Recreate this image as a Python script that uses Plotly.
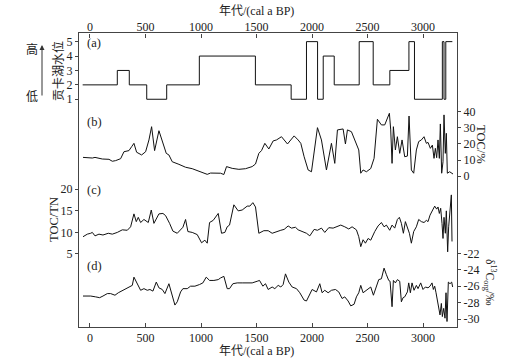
import plotly.graph_objects as go

# ---------------- data ----------------
# (a) Gongka lake water level (step series: level starting at each year)
lvl_years = [-66, 246, 354, 511, 691, 985, 1490, 1812, 1950, 2050, 2101, 2200, 2425, 2551, 2701, 2873, 2923, 3174, 3189, 3205, 3264]
lvl_values = [2, 3, 2, 1, 2, 4, 2, 1, 5, 1, 4, 2, 5, 2, 3, 5, 1, 5, 1, 5, 5]

# (b) TOC / %
toc_years = [-63, 21, 45, 111, 171, 201, 231, 276, 306, 351, 375, 396, 420, 465, 501, 531, 555, 582, 621, 657,
             687, 711, 741, 801, 861, 921, 981, 1026, 1056, 1086, 1131, 1176, 1206, 1230, 1281, 1341, 1401, 1461,
             1491, 1521, 1545, 1575, 1611, 1650, 1680, 1725, 1779, 1839, 1875, 1899, 1929, 1965, 1995, 2049, 2085,
             2130, 2175, 2205, 2229, 2280, 2301, 2319, 2355, 2400, 2421, 2439, 2460, 2490, 2529, 2559, 2589, 2625,
             2655, 2697, 2709, 2721, 2733, 2751, 2769, 2790, 2811, 2835, 2859, 2874, 2895, 2916, 2940, 2961, 2985,
             3009, 3030, 3045, 3066, 3084, 3099, 3111, 3123, 3135, 3147, 3156, 3168, 3180, 3189, 3201, 3210, 3219,
             3240, 3270]
toc_values = [11.7, 11.3, 11.7, 10.7, 10.5, 9.3, 9.7, 10.9, 15.2, 15.9, 18.3, 20.4, 14.9, 13.2, 15.2, 22.5, 30.7, 15.9, 28.2, 20.4,
              14.2, 13.2, 9.0, 7.4, 5.6, 4.7, 3.3, 1.9, 1.2, 2.0, 1.9, 1.9, 1.1, 6.0, 4.9, 4.3, 4.7, 6.0,
              7.6, 14.2, 15.9, 20.4, 16.9, 21.9, 22.5, 24.5, 20.0, 25.0, 22.5, 20.4, 12.1, 3.9, 2.8, 30.1, 22.5,
              3.9, 20.4, 8.0, 28.7, 29.3, 20.0, 28.7, 27.6, 20.4, 16.3, 1.9, 3.9, 2.8, 4.8, 11.1, 35.3, 31.8,
              31.8, 39.0, 28.7, 8.0, 30.7, 16.3, 24.5, 14.2, 22.5, 12.1, 12.5, 37.3, 3.9, 1.9, 16.3, 21.5, 22.5,
              24.5, 20.4, 21.0, 17.3, 19.3, 11.1, 17.3, 11.5, 22.5, 11.1, 32.4, 1.9, 9.0, 38.0, 14.2, 26.6, 1.9,
              2.8, 1.4]

# (c) TOC/TN
ctn_years = [-63, -24, 6, 21, 45, 81, 117, 165, 201, 246, 291, 336, 366, 396, 417, 435, 456, 486, 525, 552,
             576, 621, 657, 681, 717, 747, 786, 816, 837, 861, 882, 921, 966, 1005, 1035, 1056, 1077, 1110, 1155,
             1185, 1215, 1236, 1257, 1296, 1335, 1371, 1416, 1440, 1467, 1491, 1521, 1566, 1605, 1641, 1680, 1719,
             1749, 1785, 1815, 1851, 1875, 1920, 1950, 1980, 2019, 2049, 2085, 2115, 2151, 2190, 2220, 2259, 2295,
             2331, 2361, 2400, 2421, 2439, 2460, 2481, 2505, 2529, 2565, 2595, 2625, 2649, 2670, 2700, 2721, 2745,
             2769, 2787, 2805, 2823, 2841, 2859, 2877, 2895, 2916, 2940, 2961, 2985, 3009, 3030, 3045, 3063, 3084,
             3105, 3123, 3135, 3147, 3159, 3171, 3180, 3189, 3201, 3210, 3222, 3231, 3243, 3255, 3261]
ctn_values = [9.0, 9.6, 9.8, 10.0, 9.2, 9.6, 9.4, 9.8, 9.6, 10.0, 10.6, 10.5, 11.3, 14.3, 12.5, 13.5, 12.3, 13.0, 12.3, 15.2,
              12.1, 14.3, 14.4, 13.9, 12.1, 10.3, 9.8, 10.6, 11.2, 13.0, 10.2, 10.0, 9.5, 7.6, 8.2, 7.5, 12.3, 12.8, 14.4,
              9.8, 10.0, 11.3, 11.7, 16.4, 15.0, 15.2, 16.1, 16.1, 16.9, 15.9, 9.8, 10.4, 10.4, 9.8, 10.2, 10.5,
              10.7, 11.5, 11.0, 11.2, 10.6, 10.2, 9.8, 9.2, 10.7, 10.5, 11.0, 10.0, 11.1, 11.0, 11.3, 11.7, 11.3,
              10.8, 11.3, 10.6, 9.0, 6.7, 8.3, 7.5, 8.6, 8.2, 10.2, 11.5, 12.3, 11.3, 11.7, 10.5, 11.7, 11.0,
              13.0, 13.5, 12.1, 9.8, 12.5, 11.0, 9.8, 7.5, 10.2, 11.3, 13.0, 12.5, 12.3, 12.8, 12.5, 14.0, 15.2,
              16.1, 15.4, 15.9, 14.4, 15.6, 12.1, 8.6, 13.5, 9.8, 15.0, 5.5, 11.3, 16.4, 18.7, 7.9]

# (d) delta13C org / permil
d13_years = [-63, 6, 51, 87, 117, 156, 186, 225, 255, 306, 345, 381, 396, 426, 456, 486, 516, 540, 567, 597,
             621, 651, 675, 711, 735, 765, 786, 816, 837, 876, 906, 945, 987, 1017, 1047, 1077, 1116, 1155, 1176,
             1206, 1236, 1257, 1287, 1326, 1371, 1416, 1461, 1506, 1527, 1557, 1581, 1605, 1641, 1665, 1695, 1719,
             1740, 1761, 1791, 1821, 1860, 1890, 1929, 1950, 1971, 2001, 2040, 2070, 2091, 2115, 2145, 2175, 2211,
             2241, 2271, 2295, 2325, 2349, 2379, 2400, 2421, 2439, 2460, 2490, 2529, 2553, 2580, 2601, 2625, 2649,
             2670, 2691, 2703, 2721, 2733, 2751, 2769, 2790, 2805, 2820, 2835, 2859, 2871, 2886, 2901, 2919, 2940,
             2955, 2979, 3000, 3021, 3045, 3063, 3081, 3093, 3105, 3117, 3129, 3141, 3153, 3165, 3174, 3186, 3198,
             3207, 3216, 3228, 3243, 3258, 3267]
d13_values = [-27.2, -27.2, -27.3, -27.4, -27.2, -26.9, -26.9, -27.1, -26.8, -26.4, -26.1, -25.9, -24.9, -25.7, -26.5, -26.3, -26.5, -26.4, -26.6, -25.5,
              -26.2, -26.4, -26.9, -25.7, -26.9, -28.3, -27.9, -26.7, -26.3, -26.3, -26.0, -26.0, -25.8, -25.6, -24.9, -25.3, -25.3, -25.2, -25.0,
              -24.8, -26.3, -26.3, -25.7, -25.6, -25.6, -25.6, -25.6, -25.4, -25.3, -26.0, -25.7, -26.4, -26.1, -26.3, -25.9, -26.1,
              -25.8, -24.5, -25.5, -26.1, -26.3, -26.8, -27.7, -27.8, -27.2, -26.4, -26.7, -25.7, -26.8, -26.5, -26.8, -26.5, -26.4,
              -26.7, -27.5, -27.3, -27.8, -28.4, -28.2, -27.3, -26.8, -25.9, -26.8, -26.5, -26.1, -27.1, -26.1, -25.2, -25.1, -23.8,
              -24.6, -25.3, -25.4, -28.5, -25.3, -25.6, -25.2, -25.4, -27.9, -27.4, -27.3, -26.7, -25.6, -26.8, -25.6, -26.5, -25.9,
              -26.3, -25.6, -26.4, -26.1, -26.2, -26.0, -25.6, -26.4, -26.0, -26.8, -27.9, -28.5, -29.5, -28.1, -29.7, -28.7, -29.9,
              -26.8, -30.3, -25.5, -25.7, -25.5, -26.1]

x_ticks = [0, 500, 1000, 1500, 2000, 2500, 3000]
a_ticks = [1, 2, 3, 4, 5]
b_ticks = [0, 10, 20, 30, 40]
c_ticks = [5, 10, 15, 20]
d_ticks = [-22, -24, -26, -28, -30]
d_ticktext = ["-22", "-24", "-26", "-28", "-30"]

# ---------------- layout geometry ----------------
W, H = 510, 359
L, R, T, B = 79, 457, 33, 327


def px(x):
    return (x - L) / (R - L)


def py(y):
    return (B - y) / (B - T)


SERIF = "Liberation Serif, Times New Roman, serif"
MIXED = "Liberation Serif, Noto Sans CJK SC, serif"
CJK = "Noto Sans CJK SC, sans-serif"
TXT = "#222"
LINE = "#111"

fig = go.Figure()
fig.add_trace(go.Scatter(x=lvl_years, y=lvl_values, mode="lines", line=dict(color=LINE, width=1, shape="hv"),
                         xaxis="x", yaxis="y", showlegend=False))
fig.add_trace(go.Scatter(x=toc_years, y=toc_values, mode="lines", line=dict(color=LINE, width=1),
                         xaxis="x", yaxis="y2", showlegend=False))
fig.add_trace(go.Scatter(x=ctn_years, y=ctn_values, mode="lines", line=dict(color=LINE, width=1),
                         xaxis="x", yaxis="y3", showlegend=False))
fig.add_trace(go.Scatter(x=d13_years, y=d13_values, mode="lines", line=dict(color=LINE, width=1),
                         xaxis="x", yaxis="y4", showlegend=False))
# trace carrying the top axis
fig.add_trace(go.Scatter(x=lvl_years, y=lvl_values, mode="lines", line=dict(width=0), opacity=0,
                         xaxis="x2", yaxis="y", showlegend=False, hoverinfo="skip"))

tickfont = dict(family=SERIF, size=12, color=TXT)
xr = [-99, 3306]
common_y = dict(showgrid=False, zeroline=False, ticks="outside", ticklen=3, tickwidth=1,
                tickcolor="#444", tickfont=tickfont, domain=[0, 1], automargin=False)

fig.update_layout(
    width=W, height=H,
    margin=dict(l=L, r=W - R, t=T, b=H - B, pad=0, autoexpand=False),
    paper_bgcolor="white", plot_bgcolor="white",
    xaxis=dict(range=xr, tickvals=x_ticks, ticks="inside", ticklen=4, tickcolor="#444",
               showgrid=False, zeroline=False, showline=True, mirror=True, linecolor="#444", linewidth=1,
               tickfont=tickfont, anchor="y", automargin=False),
    xaxis2=dict(range=xr, tickvals=x_ticks, ticks="inside", ticklen=4, tickcolor="#444",
                showgrid=False, zeroline=False, showline=False, overlaying="x", side="top",
                tickfont=tickfont, anchor="free", position=1, automargin=False),
    yaxis=dict(range=[-14.81, 5.60], tickvals=a_ticks, side="left", showline=True, mirror=True,
               linecolor="#444", linewidth=1, anchor="x", **common_y),
    yaxis2=dict(range=[-93.3, 88.7], tickvals=b_ticks, side="right", overlaying="y", showline=False,
                anchor="x", **common_y),
    yaxis3=dict(range=[-11.93, 56.24], tickvals=c_ticks, side="left", overlaying="y", showline=False,
                anchor="x", **common_y),
    yaxis4=dict(range=[-30.97, 4.83], tickvals=d_ticks, ticktext=d_ticktext, side="right", overlaying="y",
                showline=False, anchor="x", **common_y),
)


def note(text, x, y, size=12, angle=0, family=SERIF, xanchor="center"):
    fig.add_annotation(text=text, x=px(x), y=py(y), xref="paper", yref="paper", showarrow=False,
                       textangle=angle, font=dict(family=family, size=size, color=TXT),
                       xanchor=xanchor, yanchor="middle")


# axis titles
note("年代/(cal a BP)", 256, 11, family=MIXED)
note("年代/(cal a BP)", 256, 351, family=MIXED)
# panel letters
note("(a)", 85, 43, size=12.5, xanchor="left")
note("(b)", 85, 122, size=12.5, xanchor="left")
note("(c)", 85, 190, size=12.5, xanchor="left")
note("(d)", 85, 266, size=12.5, xanchor="left")
# left labels
note("贡卡湖水位", 57.5, 71.5, size=12, angle=-90, family=CJK)
note("高", 32, 49, size=12, family=CJK)
note("低", 32, 95, size=12, family=CJK)
note("TOC/TN", 54, 220, size=12.5, angle=-90)
# right labels
note("TOC/%", 481, 144, size=12.5, angle=90)
note("δ<sup>13</sup>C<sub>org</sub>/‰", 490, 283, size=11.5, angle=90)

# arrow low -> high
fig.add_annotation(x=px(42), y=py(45), xref="paper", yref="paper", ax=0, ay=52,
                   axref="pixel", ayref="pixel", showarrow=True, arrowhead=2, arrowsize=1,
                   arrowwidth=1, arrowcolor="#333", text="")

fig.write_html("out.html", config={"displayModeBar": False},
               post_script="document.body.style.margin='0';document.body.style.padding='0';")
